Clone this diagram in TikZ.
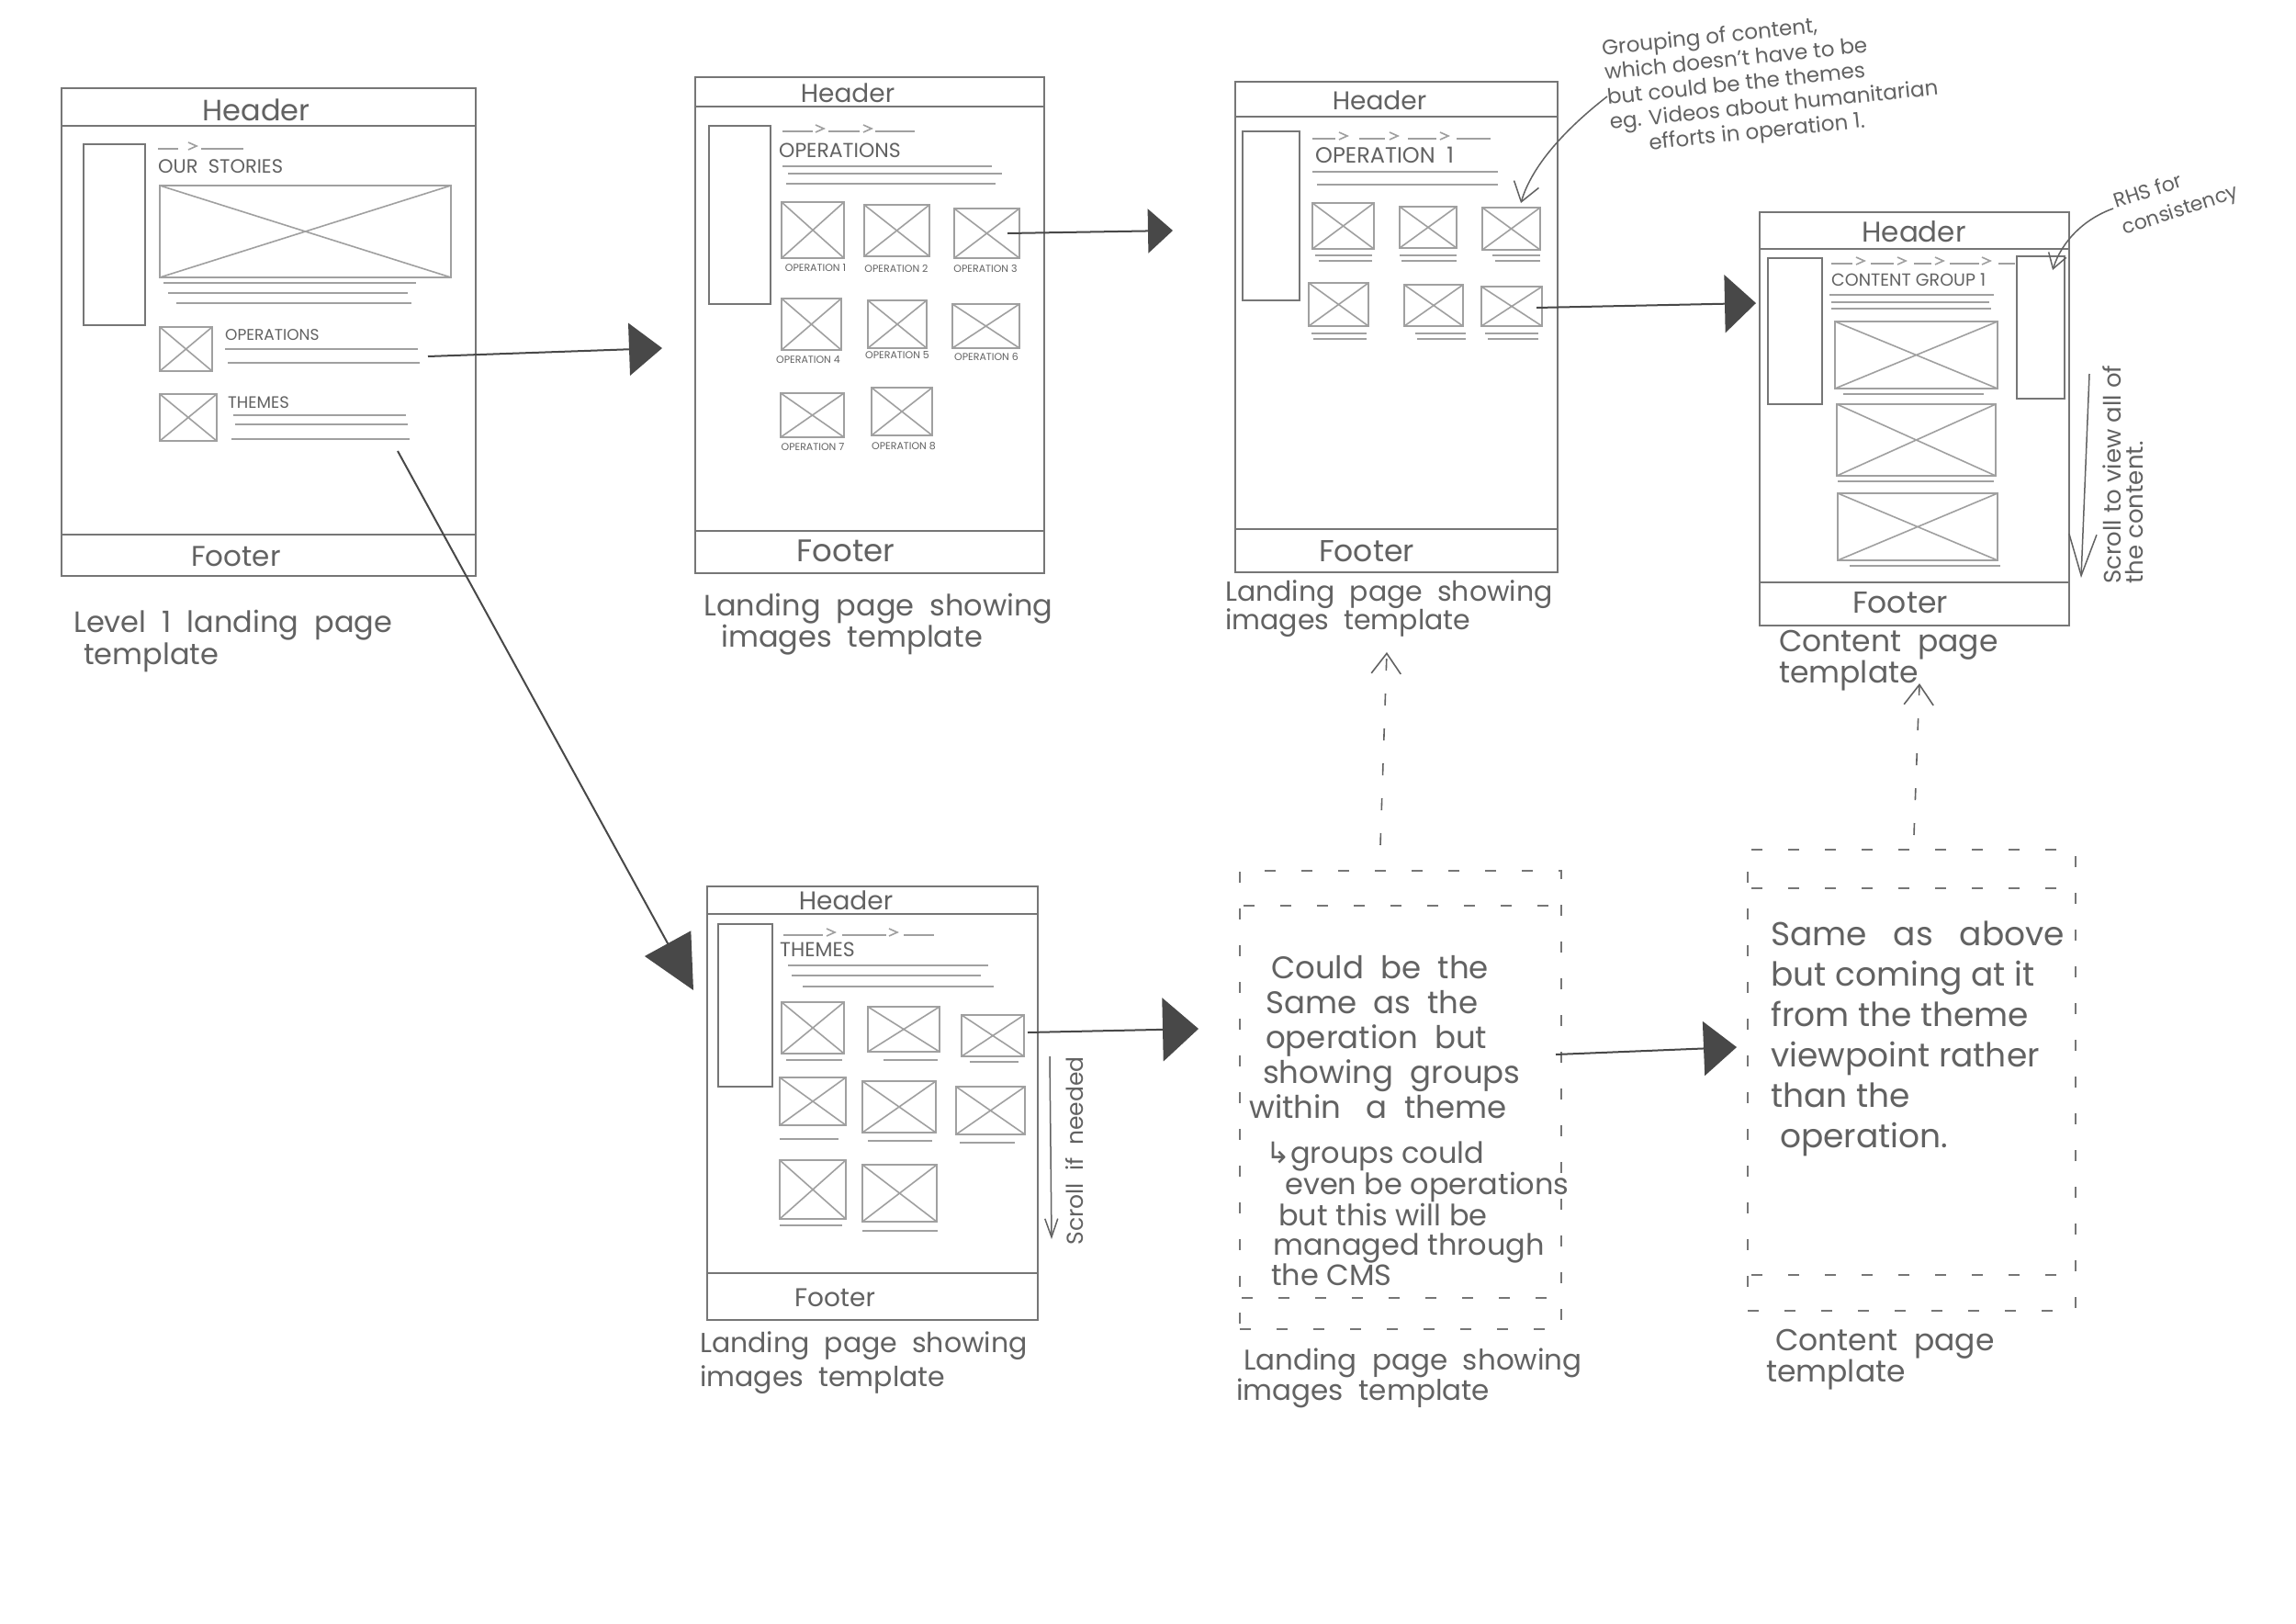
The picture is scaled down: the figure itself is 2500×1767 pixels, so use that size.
\documentclass[tikz,border=0pt]{standalone}
\usepackage{fontspec}
\setmainfont{Poppins}
\newfontfamily\wfsym{DejaVu Sans}
\usetikzlibrary{arrows.meta}
\definecolor{pencil}{RGB}{118,118,118}
\definecolor{faint}{RGB}{160,160,160}
\definecolor{ink}{RGB}{98,98,98}
\definecolor{lead}{RGB}{72,72,72}
\newcommand\wffs[2]{\fontsize{#1}{#2}\selectfont}
\newcommand\wfimg[4]{\draw[imgline] (#1,#2) rectangle (#3,#4) (#1,#2) -- (#3,#4) (#1,#4) -- (#3,#2);}
\newcommand\wfline[3]{\draw[txtline] (#1,#3) -- (#2,#3);}
\newcommand\wfchev[2]{\draw[txtline] (#1,#2-7) -- (#1+9,#2-3) -- (#1,#2+1);}
\begin{document}
\begin{tikzpicture}[x=1pt,y=-1pt,
  pagebox/.style={draw=pencil, line width=2pt, inner sep=0pt},
  frameline/.style={draw=pencil, line width=1.8pt},
  sidebar/.style={draw=pencil, line width=1.8pt},
  imgline/.style={draw=faint, line width=1.6pt},
  txtline/.style={draw=faint, line width=1.6pt},
  txt/.style={text=ink, inner sep=0pt, align=left},
  dashbox/.style={draw=pencil, line width=1.6pt, dash pattern=on 12pt off 28pt, inner sep=0pt},
  dashline/.style={draw=pencil, line width=1.6pt, dash pattern=on 12pt off 28pt},
  bigarrow/.style 2 args={draw=lead, line width=2pt, -{Triangle[length=#1pt, width=#2pt, fill=lead]}},
  dasharrow/.style={draw=ink, line width=1.6pt, dash pattern=on 13pt off 25pt, -{Straight Barb[length=22pt, width=32pt]}},
  notearrow/.style 2 args={draw=ink, line width=1.5pt, -{Straight Barb[length=#1pt, width=#2pt]}}
]
\fill[white] (0,0) rectangle (2500,1767);
\useasboundingbox (0,0) rectangle (2500,1767);

% ---------------- Page 1 ----------------
\node[pagebox, minimum width=451pt, minimum height=531pt] (p1) at (292.5,361.5) {};
\draw[frameline] (67,137) -- (518,137) (67,582) -- (518,582);
\node[txt, font=\wffs{32}{32}] (p1h) at (279,120) {Header};
\node[txt, font=\wffs{31}{31}] (p1f) at (257,606) {Footer};
\draw[sidebar] (91,157) rectangle (158,354);
\wfline{172}{194}{162}\wfchev{205}{162}\wfline{219}{265}{162}
\node[txt, anchor=west, font=\wffs{21}{21}] (p1t) at (172,181) {OUR\ \ STORIES};
\wfimg{174}{202}{491}{302}
\wfline{178}{453}{308}\wfline{183}{444}{319}\wfline{192}{448}{330}
\wfimg{174}{356}{231}{404}
\node[txt, anchor=west, font=\wffs{17}{17}] (p1o) at (245,365) {OPERATIONS};
\wfline{245}{455}{380}\wfline{248}{457}{395}
\wfimg{174}{429}{236}{480}
\node[txt, anchor=west, font=\wffs{18}{18}] (p1m) at (248,438) {THEMES};
\wfline{254}{442}{452}\wfline{256}{444}{462}\wfline{252}{446}{478}
\node[txt, anchor=north west, font=\wffs{32}{35}] (c1) at (80,664) {Level\ \ 1\ \ landing\ \ page\\\hspace*{11pt}template};

% ---------------- Page 2 ----------------
\node[pagebox, minimum width=380pt, minimum height=540pt] (p2) at (947,354) {};
\draw[frameline] (757,116) -- (1137,116) (757,578) -- (1137,578);
\node[txt, font=\wffs{28}{28}] (p2h) at (923,101) {Header};
\node[txt, font=\wffs{34}{34}] (p2f) at (921,600) {Footer};
\draw[sidebar] (772,137) rectangle (839,331);
\wfline{852}{885}{143}\wfchev{888}{143}\wfline{902}{936}{143}\wfchev{940}{143}\wfline{953}{996}{143}
\node[txt, anchor=west, font=\wffs{22}{22}] (p2t) at (848,164) {OPERATIONS};
\wfline{852}{1080}{181}\wfline{858}{1091}{189}\wfline{856}{1084}{200}
\wfimg{851}{220}{919}{281}\wfimg{941}{223}{1012}{279}\wfimg{1039}{227}{1110}{281}
\wfimg{851}{325}{916}{381}\wfimg{945}{327}{1009}{379}\wfimg{1037}{331}{1110}{379}
\wfimg{850}{428}{919}{476}\wfimg{949}{422}{1015}{474}
\node[txt, font=\wffs{11}{11}] (o1) at (888,292) {OPERATION 1};
\node[txt, font=\wffs{11}{11}] (o2) at (976,292) {OPERATION 2};
\node[txt, font=\wffs{11}{11}] (o3) at (1073,292) {OPERATION 3};
\node[txt, font=\wffs{11}{11}] (o4) at (880,392) {OPERATION 4};
\node[txt, font=\wffs{11}{11}] (o5) at (977,387) {OPERATION 5};
\node[txt, font=\wffs{11}{11}] (o6) at (1074,388) {OPERATION 6};
\node[txt, font=\wffs{11}{11}] (o7) at (885,487) {OPERATION 7};
\node[txt, font=\wffs{11}{11}] (o8) at (984,486) {OPERATION 8};
\node[txt, anchor=north west, font=\wffs{32}{32}] (c2) at (766,646) {Landing\ \ page\ \ showing\\\hspace*{19pt}images\ \ template};

% ---------------- Page 3 ----------------
\node[pagebox, minimum width=351pt, minimum height=534pt] (p3) at (1520.5,356) {};
\draw[frameline] (1345,127) -- (1696,127) (1345,576) -- (1696,576);
\node[txt, font=\wffs{28}{28}] (p3h) at (1502,109) {Header};
\node[txt, font=\wffs{33}{33}] (p3f) at (1488,600) {Footer};
\draw[sidebar] (1353,143) rectangle (1415,327);
\wfline{1429}{1454}{151}\wfchev{1458}{151}\wfline{1480}{1508}{151}\wfchev{1513}{151}\wfline{1533}{1564}{151}\wfchev{1568}{151}\wfline{1586}{1623}{151}
\node[txt, anchor=west, font=\wffs{24}{24}] (p3t) at (1432,169) {OPERATION\ \ 1};
\wfline{1429}{1631}{187}\wfline{1434}{1631}{201}
\wfimg{1429}{221}{1496}{271}\wfimg{1524}{225}{1586}{270}\wfimg{1614}{226}{1677}{272}
\wfline{1432}{1494}{278}\wfline{1436}{1494}{284}\wfline{1524}{1586}{278}\wfline{1526}{1586}{284}\wfline{1625}{1677}{278}\wfline{1628}{1677}{284}
\wfimg{1425}{308}{1490}{355}\wfimg{1529}{310}{1593}{355}\wfimg{1613}{312}{1679}{355}
\wfline{1428}{1488}{363}\wfline{1430}{1488}{369}\wfline{1541}{1596}{363}\wfline{1543}{1596}{369}\wfline{1617}{1675}{363}\wfline{1620}{1675}{369}
\node[txt, anchor=north west, font=\wffs{30}{31}] (c3) at (1334,631) {Landing\ \ page\ \ showing\\images\ \ template};
\node[txt, anchor=west, rotate=6, font=\wffs{23}{27}] (n1) at (1750,108) {Grouping of content,\\which doesn't have to be\\but could be the themes\\eg. Videos about humanitarian\\\hspace*{40pt}efforts in operation 1.};

% ---------------- Page 4 ----------------
\node[pagebox, minimum width=337pt, minimum height=450pt] (p4) at (2084.5,456) {};
\draw[frameline] (1916,271) -- (2253,271) (1916,634) -- (2253,634);
\node[txt, font=\wffs{31}{31}] (p4h) at (2084,252) {Header};
\node[txt, font=\wffs{33}{33}] (p4f) at (2069,656) {Footer};
\draw[sidebar] (1925,281) rectangle (1984,440);
\draw[sidebar] (2196,279) rectangle (2248,434);
\wfline{1994}{2017}{287}\wfchev{2021}{287}\wfline{2037}{2062}{287}\wfchev{2066}{287}\wfline{2084}{2103}{287}\wfchev{2107}{287}\wfline{2123}{2155}{287}\wfchev{2158}{287}\wfline{2176}{2194}{287}
\node[txt, anchor=west, font=\wffs{19}{19}] (p4t) at (1994,305) {CONTENT GROUP 1};
\wfline{1992}{2171}{321}\wfline{1994}{2166}{329}\wfline{1994}{2168}{336}
\wfimg{1998}{350}{2175}{423}\wfline{2007}{2160}{429}
\wfimg{2000}{440}{2173}{518}\wfline{2001}{2171}{524}
\wfimg{2001}{537}{2175}{610}\wfline{2014}{2178}{616}
\node[txt, anchor=north west, font=\wffs{33}{29}] (c4) at (1937,686) {Content\ \ page\\template};
\node[txt, anchor=west, rotate=18, font=\wffs{22}{30}] (n2) at (2307,236) {RHS for\\consistency};
\node[txt, anchor=west, rotate=90, font=\wffs{26}{24}] (n3) at (2312,636) {Scroll to view all of\\the content.};

% ---------------- Page 5 ----------------
\node[pagebox, minimum width=360pt, minimum height=472pt] (p5) at (950,1201) {};
\draw[frameline] (770,995) -- (1130,995) (770,1386) -- (1130,1386);
\node[txt, font=\wffs{28}{28}] (p5h) at (921,980) {Header};
\node[txt, font=\wffs{28}{28}] (p5f) at (909,1413) {Footer};
\draw[sidebar] (782,1006) rectangle (841,1183);
\wfline{853}{896}{1018}\wfchev{900}{1018}\wfline{917}{965}{1018}\wfchev{968}{1018}\wfline{984}{1017}{1018}
\node[txt, anchor=west, font=\wffs{22}{22}] (p5t) at (849,1034) {THEMES};
\wfline{858}{1076}{1051}\wfline{862}{1068}{1062}\wfline{874}{1082}{1074}
\wfimg{851}{1091}{919}{1147}\wfimg{945}{1096}{1023}{1145}\wfimg{1047}{1105}{1115}{1150}
\wfline{856}{917}{1154}\wfline{962}{1021}{1154}\wfline{1056}{1109}{1156}
\wfimg{849}{1173}{921}{1225}\wfimg{939}{1177}{1019}{1233}\wfimg{1041}{1183}{1116}{1235}
\wfline{849}{913}{1240}\wfline{945}{1015}{1242}\wfline{1045}{1105}{1244}
\wfimg{849}{1263}{921}{1327}\wfimg{939}{1268}{1020}{1330}
\wfline{849}{917}{1334}\wfline{939}{1021}{1340}
\node[txt, anchor=north west, font=\wffs{30}{37}] (c5) at (762,1449) {Landing\ \ page\ \ showing\\images\ \ template};
\node[txt, rotate=90, font=\wffs{25}{25}] (n4) at (1170,1253) {Scroll\ \ if\ \ needed};

% ---------------- Dashed box (middle) ----------------
\node[dashbox, minimum width=350pt, minimum height=499pt] (m1) at (1525,1197.5) {};
\draw[dashline] (1354,986) -- (1690,986) (1352,1413) -- (1692,1413);
\node[txt, anchor=north west, font=\wffs{34}{38}] (t1) at (1360,1040) {\hspace*{24pt}Could\ \ be\ \ the\\\hspace*{18pt}Same\ \ as\ \ the\\\hspace*{18pt}operation\ \ but\\\hspace*{15pt}showing\ \ groups\\within\ \ \ a\ \ theme};
\node[txt, anchor=north west, font=\wffs{32}{31.5}] (t2) at (1378,1243) {{\wfsym ↳}groups could\\\hspace*{21pt}even be operations\\\hspace*{14pt}but this will be\\\hspace*{8pt}managed through\\\hspace*{6pt}the CMS};
\node[txt, anchor=north west, font=\wffs{31}{29}] (c6) at (1346,1468) {\hspace*{8pt}Landing\ \ page\ \ showing\\images\ \ template};

% ---------------- Dashed box (right) ----------------
\node[dashbox, minimum width=357pt, minimum height=502pt] (r1) at (2081.5,1176) {};
\draw[dashline] (1907,967) -- (2256,967) (1907,1388) -- (2256,1388);
\node[txt, anchor=north west, font=\wffs{36}{44}] (t3) at (1928,1003) {Same\ \ \ as\ \ \ above\\but coming at it\\from the theme\\viewpoint rather\\than the\\\hspace*{10pt}operation.};
\node[txt, anchor=north west, font=\wffs{33}{34}] (c7) at (1923,1447) {\hspace*{10pt}Content\ \ page\\template};

% ---------------- Connectors ----------------
\coordinate (a1s) at (466,388);   \coordinate (a1e) at (721,379);
\coordinate (a2s) at (1097,254);  \coordinate (a2e) at (1277,251);
\coordinate (a3s) at (1673,335);  \coordinate (a3e) at (1912,330);
\coordinate (a4s) at (433,491);   \coordinate (a4e) at (755,1078);
\coordinate (a5s) at (1119,1124); \coordinate (a5e) at (1305,1120);
\coordinate (a6s) at (1694,1148); \coordinate (a6e) at (1891,1140);
\draw[bigarrow={36}{57}] (a1s) -- (a1e);
\draw[bigarrow={27}{48}] (a2s) -- (a2e);
\draw[bigarrow={34}{63}] (a3s) -- (a3e);
\draw[bigarrow={58}{57}] (a4s) -- (a4e);
\draw[bigarrow={39}{69}] (a5s) -- (a5e);
\draw[bigarrow={36}{59}] (a6s) -- (a6e);

\coordinate (d1s) at (1503,920); \coordinate (d1e) at (1510,710);
\coordinate (d2s) at (2084,909); \coordinate (d2e) at (2090,744);
\draw[dasharrow] (d1s) -- (d1e);
\draw[dasharrow] (d2s) -- (d2e);

\coordinate (n1s) at (1750,105); \coordinate (n1e) at (1656,221);
\draw[notearrow={20}{28}] (n1s) .. controls (1705,140) and (1668,180) .. (n1e);
\coordinate (n2s) at (2301,227); \coordinate (n2e) at (2235,294);
\draw[notearrow={16}{20}] (n2s) .. controls (2270,238) and (2245,262) .. (n2e);
\coordinate (s1s) at (2275,407); \coordinate (s1e) at (2266,629);
\draw[notearrow={45}{30}] (s1s) -- (s1e);
\coordinate (s2s) at (1143,1150); \coordinate (s2e) at (1145,1349);
\draw[notearrow={20}{14}] (s2s) -- (s2e);
\end{tikzpicture}
\end{document}
